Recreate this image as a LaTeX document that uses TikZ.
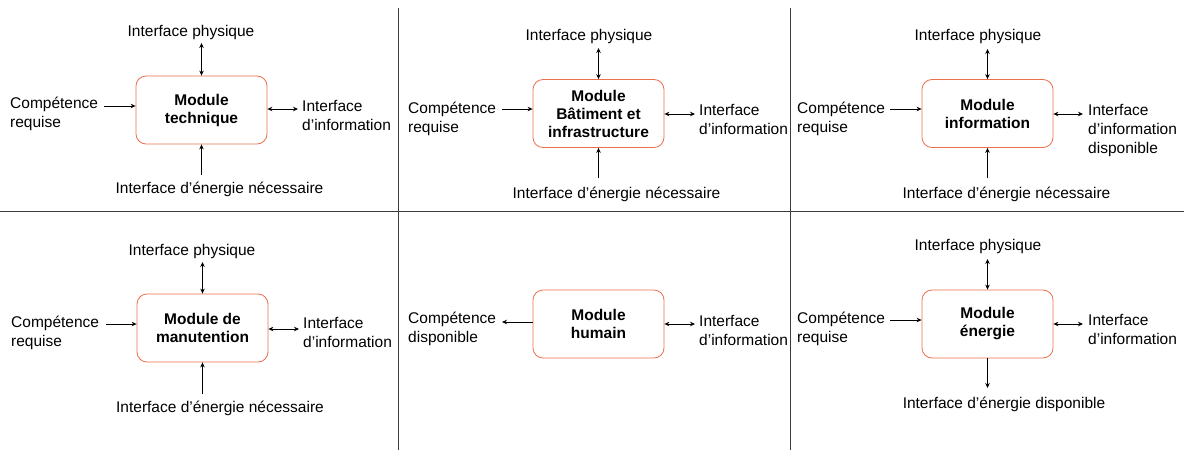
\documentclass[tikz,border=0pt]{standalone}
\usepackage{fontspec}
\setmainfont{Liberation Sans}
\usetikzlibrary{arrows.meta,positioning}
\definecolor{modorange}{RGB}{234,112,78}
\definecolor{gridgray}{RGB}{60,60,60}

\begin{document}
\begin{tikzpicture}[x=1pt, y=-1pt,
  module/.style={draw=modorange, line width=0.8pt, rounded corners=10pt, minimum width=131pt, minimum height=68pt, font=\fontsize{15.5}{18}\selectfont\bfseries, align=center, inner sep=0pt},
  lbl/.style={font=\fontsize{15.5}{19}\selectfont, align=left, inner sep=0pt},
  flow/.style={-{Stealth[length=5pt,width=4.5pt]}, line width=0.8pt},
  both/.style={{Stealth[length=5pt,width=4.5pt]}-{Stealth[length=5pt,width=4.5pt]}, line width=0.8pt}]
  \useasboundingbox (0,0) rectangle (1184,450);

  %--- grid ---
  \draw[gridgray, line width=0.8pt] (0,211) -- (1184,211);
  \draw[gridgray, line width=0.8pt] (398,8) -- (398,450);
  \draw[gridgray, line width=0.8pt] (790,8) -- (790,450);

  %--- Module technique ---
  \node[module] (mtech) at (201.5,110) {Module\\technique};
  \node[lbl, anchor=north] (mtechphys) at (191,25) {Interface physique};
  \node[lbl, anchor=north west] (mtechreq) at (10,97) {Compétence\\requise};
  \node[lbl, anchor=north west] (mtechinfo) at (302,100) {Interface\\d’information};
  \node[lbl, anchor=north] (mtechnrj) at (219.5,182) {Interface d’énergie nécessaire};
  \coordinate (mtechp) at (201.5,43);
  \coordinate (mtechr) at (104,106);
  \coordinate (mtechi) at (298,109);
  \coordinate (mteche) at (201.5,175);
  \draw[both] (mtechp) -- (mtech.north);
  \draw[flow] (mtechr) -- (mtechr -| mtech.west);
  \draw[both] (mtechi -| mtech.east) -- (mtechi);
  \draw[flow] (mteche) -- (mtech.south);

  %--- Module Batiment et infrastructure ---
  \node[module] (mbat) at (598.5,113.5) {Module\\Bâtiment et\\infrastructure};
  \node[lbl, anchor=north] (mbatphys) at (589,29) {Interface physique};
  \node[lbl, anchor=north west] (mbatreq) at (408,102) {Compétence\\requise};
  \node[lbl, anchor=north west] (mbatinfo) at (699,104) {Interface\\d’information};
  \node[lbl, anchor=north] (mbatnrj) at (616.5,187) {Interface d’énergie nécessaire};
  \coordinate (mbatp) at (598.5,48);
  \coordinate (mbatr) at (502,109);
  \coordinate (mbati) at (695,114);
  \coordinate (mbate) at (598.5,178);
  \draw[both] (mbatp) -- (mbat.north);
  \draw[flow] (mbatr) -- (mbatr -| mbat.west);
  \draw[both] (mbati -| mbat.east) -- (mbati);
  \draw[flow] (mbate) -- (mbat.south);

  %--- Module information ---
  \node[module] (minfo) at (987.5,113.5) {Module\\information};
  \node[lbl, anchor=north] (minfophys) at (978,29) {Interface physique};
  \node[lbl, anchor=north west] (minforeq) at (797,102) {Compétence\\requise};
  \node[lbl, anchor=north west] (minfoinfo) at (1088,104) {Interface\\d’information\\disponible};
  \node[lbl, anchor=north] (minfonrj) at (1006.5,187) {Interface d’énergie nécessaire};
  \coordinate (minfop) at (987.5,49);
  \coordinate (minfor) at (890,109);
  \coordinate (minfoi) at (1083,114);
  \coordinate (minfoe) at (987.5,178);
  \draw[both] (minfop) -- (minfo.north);
  \draw[flow] (minfor) -- (minfor -| minfo.west);
  \draw[both] (minfoi -| minfo.east) -- (minfoi);
  \draw[flow] (minfoe) -- (minfo.south);

  %--- Module de manutention ---
  \node[module] (mmanu) at (202.5,328) {Module de\\manutention};
  \node[lbl, anchor=north] (mmanuphys) at (192,244) {Interface physique};
  \node[lbl, anchor=north west] (mmanureq) at (11,316) {Compétence\\requise};
  \node[lbl, anchor=north west] (mmanuinfo) at (303,317) {Interface\\d’information};
  \node[lbl, anchor=north] (mmanunrj) at (220,401) {Interface d’énergie nécessaire};
  \coordinate (mmanup) at (202.5,262);
  \coordinate (mmanur) at (106,324);
  \coordinate (mmanui) at (299,329);
  \coordinate (mmanue) at (202.5,394);
  \draw[both] (mmanup) -- (mmanu.north);
  \draw[flow] (mmanur) -- (mmanur -| mmanu.west);
  \draw[both] (mmanui -| mmanu.east) -- (mmanui);
  \draw[flow] (mmanue) -- (mmanu.south);

  %--- Module humain ---
  \node[module] (mhum) at (598.5,324) {Module\\humain};
  \node[lbl, anchor=north west] (mhumdispo) at (408,312) {Compétence\\disponible};
  \node[lbl, anchor=north west] (mhuminfo) at (699,315) {Interface\\d’information};
  \coordinate (mhumc) at (502,322);
  \coordinate (mhumi) at (695,324);
  \draw[flow] (mhumc -| mhum.west) -- (mhumc);
  \draw[both] (mhumi -| mhum.east) -- (mhumi);

  %--- Module energie ---
  \node[module] (mnrj) at (987.5,324) {Module\\énergie};
  \node[lbl, anchor=north] (mnrjphys) at (978,239) {Interface physique};
  \node[lbl, anchor=north west] (mnrjreq) at (797,312) {Compétence\\requise};
  \node[lbl, anchor=north west] (mnrjinfo) at (1088,314) {Interface\\d’information};
  \node[lbl, anchor=north] (mnrjdispo) at (1004,397) {Interface d’énergie disponible};
  \coordinate (mnrjp) at (987.5,259);
  \coordinate (mnrjr) at (890,320);
  \coordinate (mnrji) at (1083,324);
  \coordinate (mnrje) at (987.5,388);
  \draw[both] (mnrjp) -- (mnrj.north);
  \draw[flow] (mnrjr) -- (mnrjr -| mnrj.west);
  \draw[both] (mnrji -| mnrj.east) -- (mnrji);
  \draw[flow] (mnrj.south) -- (mnrje);
\end{tikzpicture}
\end{document}
